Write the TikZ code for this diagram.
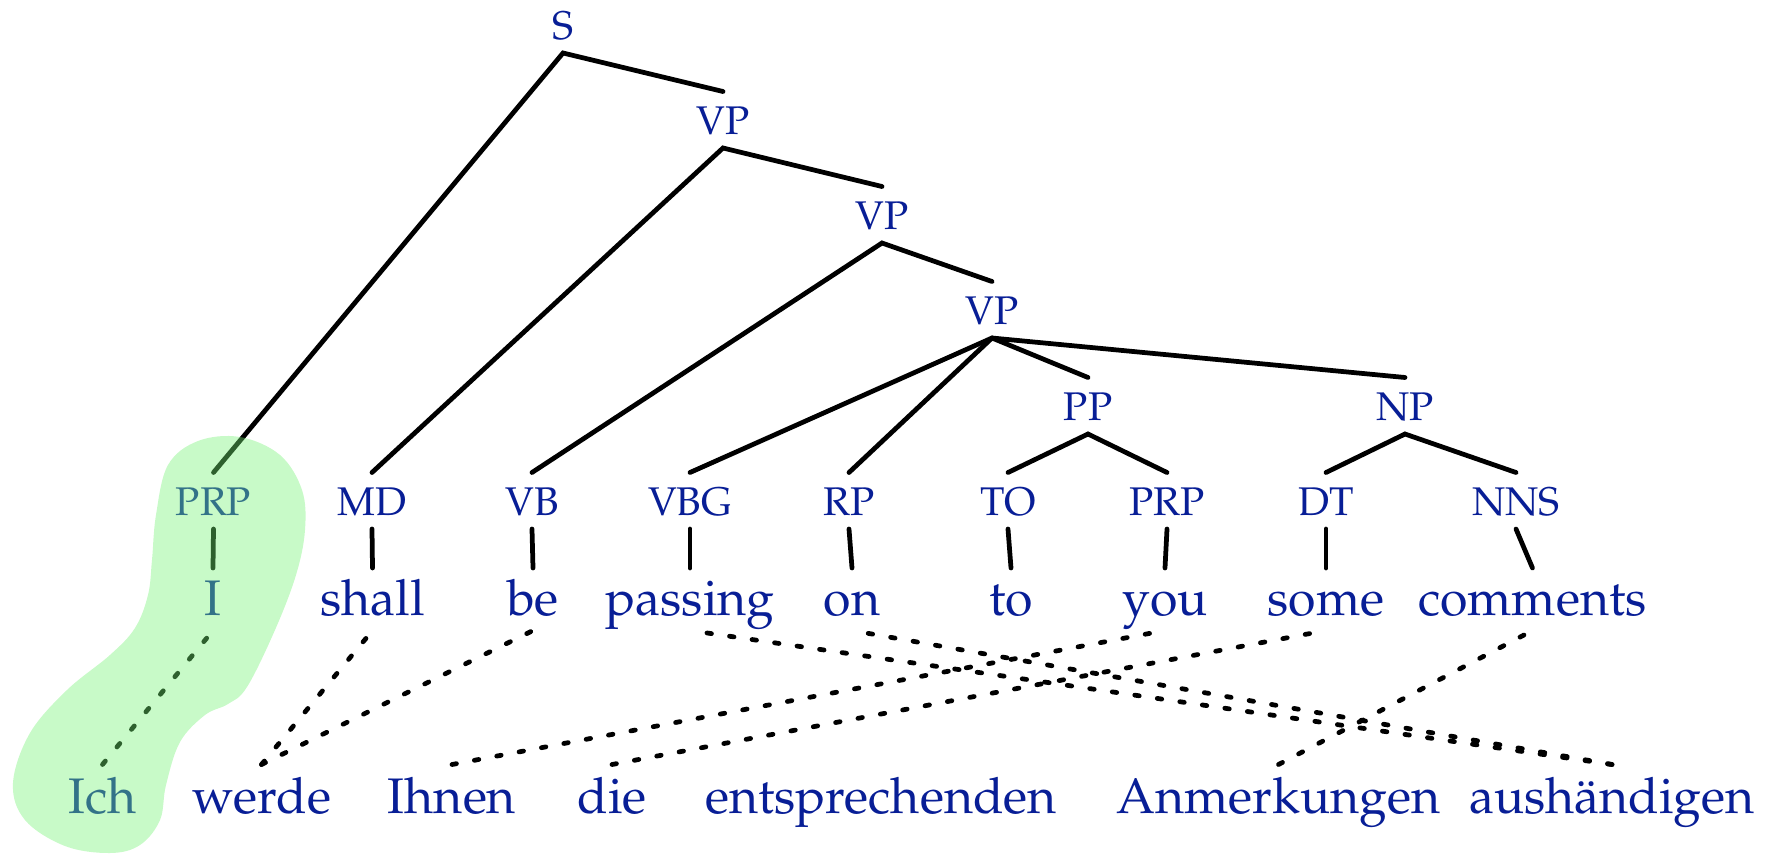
\documentclass[tikz,border=0pt]{standalone}
\usepackage[T1]{fontenc}
\IfFileExists{tgpagella.sty}{\usepackage{tgpagella}}{\IfFileExists{mathpazo.sty}{\usepackage{mathpazo}}{}}
\usepackage{tikz}
\definecolor{wordblue}{RGB}{8,30,150}
\definecolor{blobgreen}{RGB}{117,242,117}

\begin{document}
\begin{tikzpicture}[x=0.4pt, y=-0.4pt,
    treetag/.style={text=wordblue, font=\fontsize{16}{19}\selectfont, inner xsep=2pt, inner ysep=5.4pt, text height=11.4pt, text depth=0pt, anchor=base},
    enword/.style={text=wordblue, font=\fontsize{20}{24}\selectfont, inner xsep=2pt, inner ysep=2pt, text height=16.6pt, text depth=4pt, anchor=base},
    deword/.style={enword, text height=17.2pt},
    branch/.style={line width=1.9pt, line cap=round},
    link/.style={line width=1.9pt, line cap=round, dash pattern=on 1.8pt off 7.3pt}
]
\useasboundingbox (0,0) rectangle (1767,854);

% Phrase nodes
\node[treetag] (s) at (563,39) {S};
\node[treetag] (vp1) at (723,134) {VP};
\node[treetag] (vp2) at (882,229) {VP};
\node[treetag] (vp3) at (992,324) {VP};
\node[treetag] (pp) at (1088,420) {PP};
\node[treetag] (np) at (1405,420) {NP};

% POS tags
\node[treetag] (prp) at (213.5,515) {PRP};
\node[treetag] (md) at (372,515) {MD};
\node[treetag] (vb) at (532,515) {VB};
\node[treetag] (vbg) at (690,515) {VBG};
\node[treetag] (rp) at (849,515) {RP};
\node[treetag] (to) at (1008,515) {TO};
\node[treetag] (prpb) at (1167,515) {PRP};
\node[treetag] (dt) at (1326,515) {DT};
\node[treetag] (nns) at (1516,515) {NNS};

% English words
\node[enword] (i) at (213,615) {I};
\node[enword] (shall) at (372.5,615) {shall};
\node[enword] (be) at (533,615) {be};
\node[enword] (passing) at (690,615) {passing};
\node[enword] (on) at (852,615) {on};
\node[enword] (towd) at (1011,615) {to};
\node[enword] (you) at (1165,615) {you};
\node[enword] (some) at (1326,615) {some};
\node[enword] (comments) at (1532.5,615) {comments};

% German words
\node[deword] (ich) at (102.5,813) {Ich};
\node[deword] (werde) at (261.5,813) {werde};
\node[deword] (ihnen) at (452,813) {Ihnen};
\node[deword] (die) at (612,813) {die};
\node[deword] (entspr) at (881,813) {entsprechenden};
\node[deword] (anm) at (1278.5,813) {Anmerkungen};
\node[deword] (aush) at (1612,813) {aush\"andigen};

% Tree branches
\draw[branch] (prp.north) -- (s.south) -- (vp1.north);
\draw[branch] (md.north) -- (vp1.south) -- (vp2.north);
\draw[branch] (vb.north) -- (vp2.south) -- (vp3.north);
\draw[branch] (vp3.south) -- (vbg.north);
\draw[branch] (vp3.south) -- (rp.north);
\draw[branch] (vp3.south) -- (pp.north);
\draw[branch] (vp3.south) -- (np.north);
\draw[branch] (to.north) -- (pp.south) -- (prpb.north);
\draw[branch] (dt.north) -- (np.south) -- (nns.north);

% Tags to words
\draw[branch] (prp.south) -- (i.north);
\draw[branch] (md.south) -- (shall.north);
\draw[branch] (vb.south) -- (be.north);
\draw[branch] (vbg.south) -- (passing.north);
\draw[branch] (rp.south) -- (on.north);
\draw[branch] (to.south) -- (towd.north);
\draw[branch] (prpb.south) -- (you.north);
\draw[branch] (dt.south) -- (some.north);
\draw[branch] (nns.south) -- (comments.north);

% Word alignment
\draw[link] (ich.north) -- (i.south);
\draw[link] (werde.north) -- (shall.south);
\draw[link] (werde.north) -- (be.south);
\draw[link] (aush.north) -- (passing.south);
\draw[link] (aush.north) -- (on.south);
\draw[link] (ihnen.north) -- (you.south);
\draw[link] (die.north) -- (some.south);
\draw[link] (anm.north) -- (comments.south);

% Highlighted alignment
\fill[blobgreen, opacity=0.4] plot[smooth cycle, tension=0.6] coordinates {
  (152,560) (156,515) (168,465) (198,441) (240,437) (280,455) (302,490)
  (305,530) (296,575) (275,630) (247,687) (228,704) (205,715) (180,742)
  (166,785) (160,820) (140,845) (110,853) (65,846) (25,820) (13,783)
  (30,733) (67,690) (110,655) (135,628) (148,595)};
\end{tikzpicture}
\end{document}
